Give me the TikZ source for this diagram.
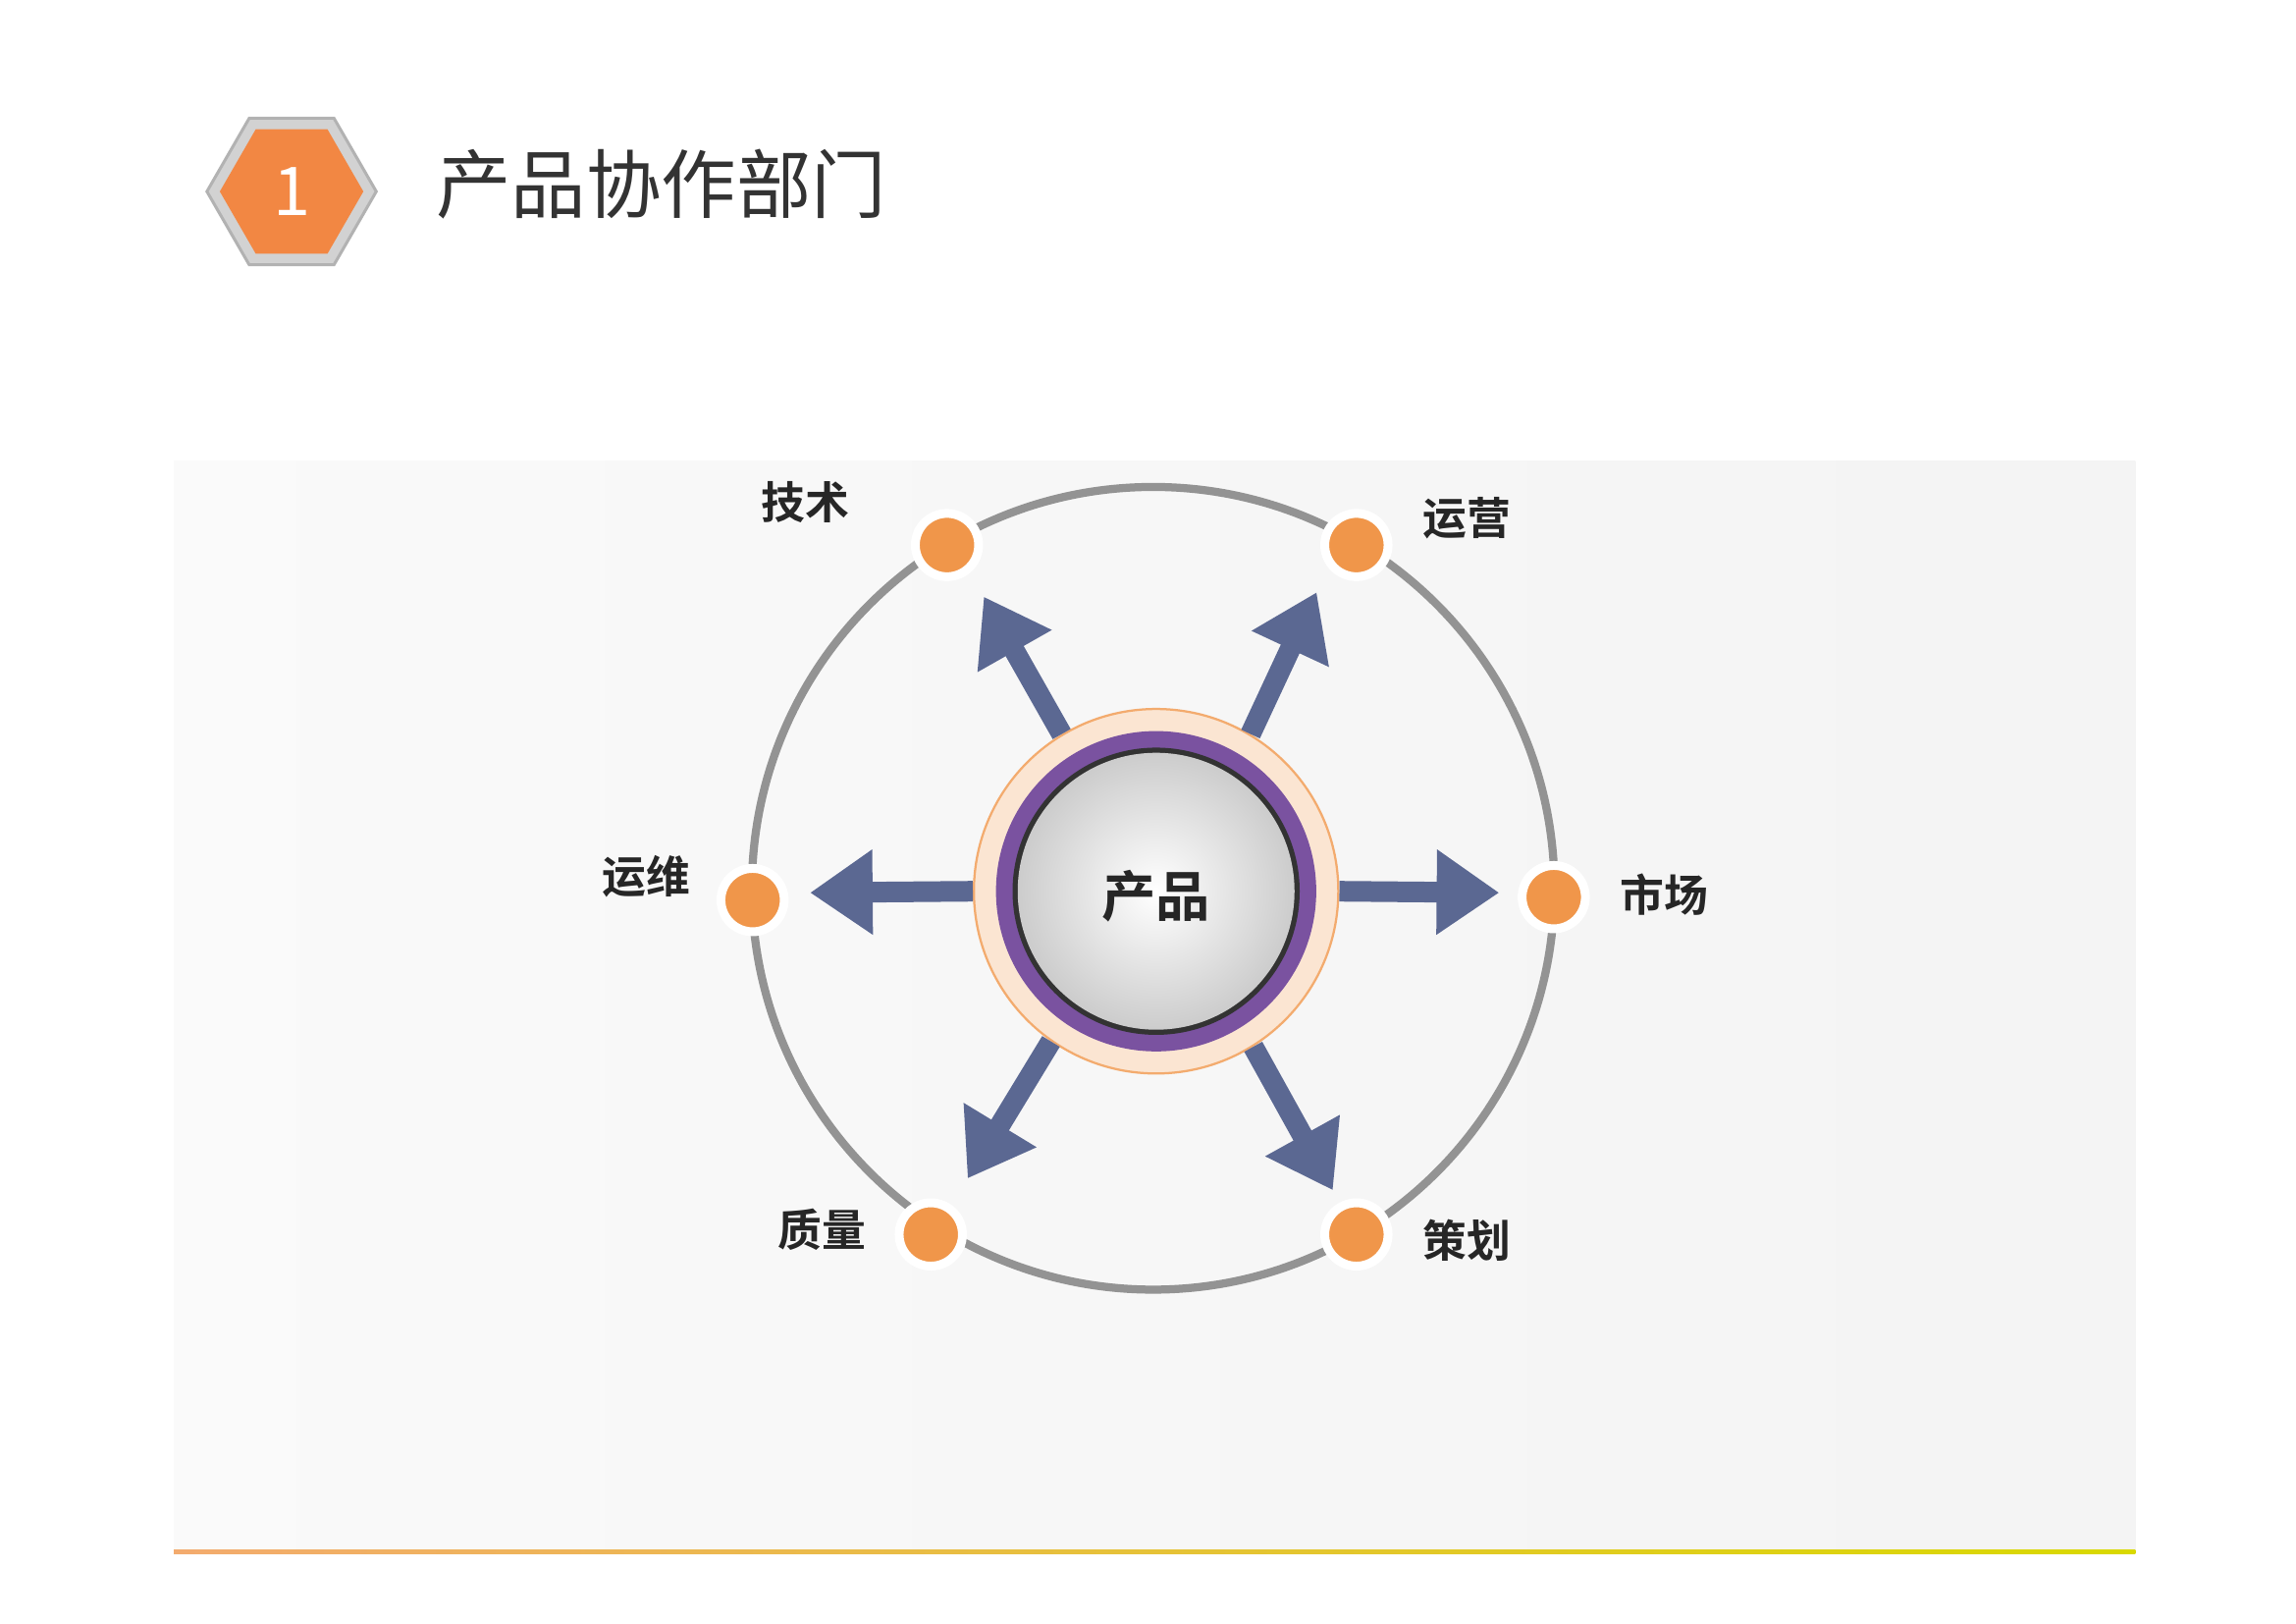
\documentclass[tikz,border=0pt]{standalone}
\usepackage{fontspec}
\setmainfont{Noto Sans CJK SC}[BoldFont={Noto Sans CJK SC Bold}]
\usetikzlibrary{arrows.meta,shapes.geometric,calc}
\definecolor{org}{HTML}{F0964A}
\definecolor{arr}{HTML}{5B6892}
\definecolor{pur}{HTML}{7A52A0}
\tikzset{
 dot/.style={circle,fill=org,draw=white,line width=1.2mm,minimum size=0.86cm,inner sep=0},
 lab/.style={font=\bfseries\fontsize{17}{17}\selectfont,text=black!85},
 bigarrow/.style={draw=arr,line width=0.28cm,-{Triangle[length=0.85cm,width=1.1cm]}}
}
\begin{document}
\begin{tikzpicture}[x=0.02cm,y=-0.02cm]
\useasboundingbox (0,0) rectangle (1559,1102);
\fill[white] (0,0) rectangle (1559,1102);
% header
\node[regular polygon,regular polygon sides=6,minimum size=2.3cm,fill=gray!35,draw=gray!60,line width=0.4mm] (hexo) at (198,130) {};
\node[regular polygon,regular polygon sides=6,minimum size=1.95cm,fill=org!90!red,inner sep=0] (hex) at (198,130) {};
\node[text=white,font=\fontsize{26}{26}\selectfont] (one) at (198,130) {1};
\node[anchor=west,font=\fontsize{29}{29}\selectfont,text=black!80] (title) at (290,125) {产品协作部门};
% panel
\shade[left color=gray!4,right color=gray!9] (118,313) rectangle (1450,1053);
\shade[left color=org!80,right color=yellow!70!olive] (118,1052) rectangle (1450,1055);
% big circle
\node[circle,draw=gray!85,line width=1.1mm,minimum size=10.9cm,inner sep=0] (ring) at (783,603) {};
% center
\node[circle,fill=org!25,draw=org!80,line width=0.3mm,minimum size=4.95cm,inner sep=0] (c0) at (785,605) {};
\node[circle,fill=pur,minimum size=4.35cm,inner sep=0] (c1) at (785,605) {};
\node[circle,fill=black!80,minimum size=3.9cm,inner sep=0] (c2) at (785,605) {};
\shade[inner color=white,outer color=gray!40] (785,605) circle (1.88cm);
\node[lab,font=\bfseries\fontsize{21}{21}\selectfont] (prod) at (785,608) {产品};
% dots
\node[dot] (js) at (643,370) {};
\node[dot] (yy) at (921,370) {};
\node[dot] (yw) at (511,611) {};
\node[dot] (sc) at (1055,609) {};
\node[dot] (zl) at (632,838) {};
\node[dot] (ch) at (921,838) {};
\node[lab] at (547,341) {技术};
\node[lab] at (996,352) {运营};
\node[lab] at (439,595) {运维};
\node[lab] at (1130,607) {市场};
\node[lab] at (558,835) {质量};
\node[lab] at (996,842) {策划};
% arrows
\coordinate (tjs) at (668,405);
\coordinate (tyy) at (894,402);
\coordinate (tyw) at (550,606);
\coordinate (tsc) at (1018,606);
\coordinate (tzl) at (657,800);
\coordinate (tch) at (905,808);
\foreach \t/\a in {tjs/121,tyy/59,tyw/180,tsc/0,tzl/235,tch/302}{
  \draw[bigarrow] (c0.\a) -- (\t);
}
\end{tikzpicture}
\end{document}
